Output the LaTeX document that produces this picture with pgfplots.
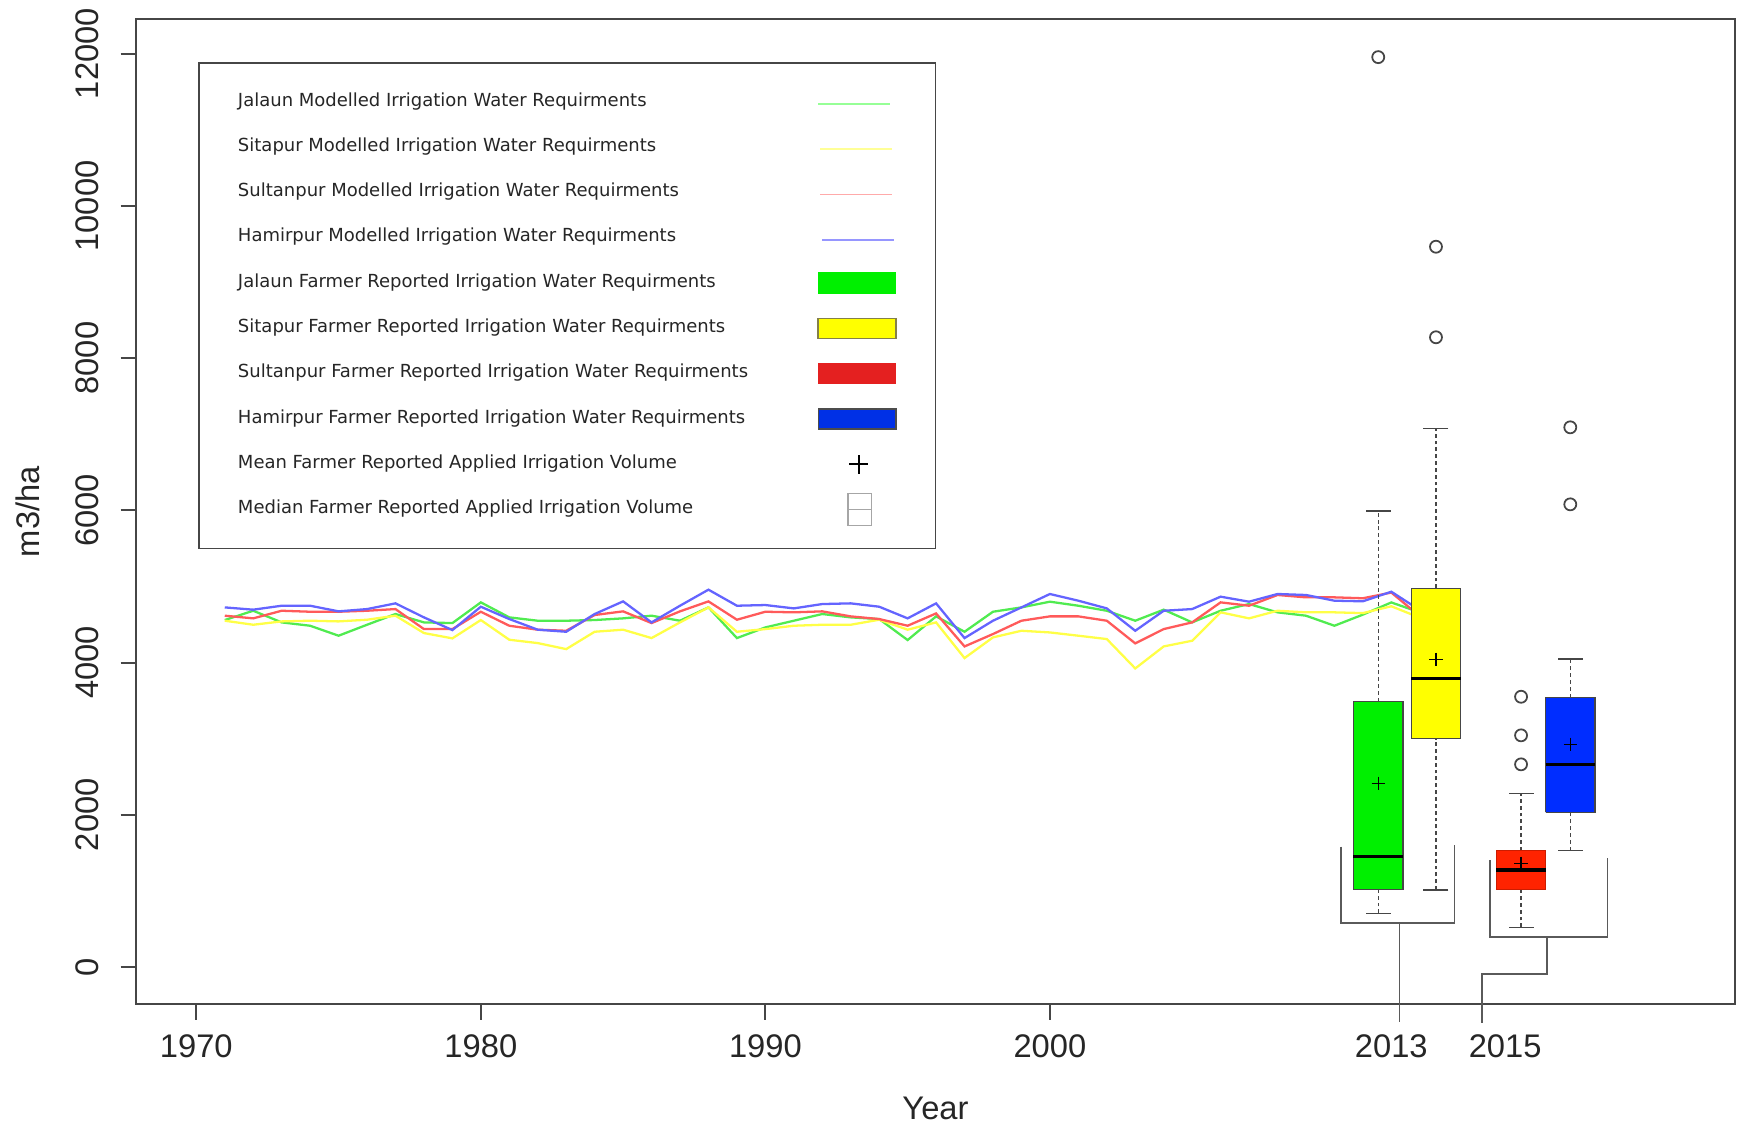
\documentclass[border=0pt]{standalone}
\usepackage{fontspec}
\setmainfont{Liberation Sans}
\newfontfamily\legfont{DejaVu Sans}
\usepackage{pgfplots}
\usepackage{pgfplotstable}
\pgfplotsset{compat=1.18}

\definecolor{lnG}{RGB}{80,235,80}
\definecolor{lnY}{RGB}{255,255,70}
\definecolor{lnR}{RGB}{255,90,90}
\definecolor{lnB}{RGB}{100,100,255}
\definecolor{lgG}{RGB}{150,255,150}
\definecolor{lgY}{RGB}{255,255,150}
\definecolor{lgR}{RGB}{255,170,170}
\definecolor{lgB}{RGB}{150,150,255}
\definecolor{bxG}{RGB}{0,240,0}
\definecolor{bxY}{RGB}{255,255,0}
\definecolor{bxR}{RGB}{255,35,0}
\definecolor{bxB}{RGB}{0,45,255}
\definecolor{lfR}{RGB}{228,32,32}
\definecolor{lfB}{RGB}{0,48,230}
\definecolor{dk}{RGB}{70,70,70}
\definecolor{brk}{RGB}{90,90,90}

\pgfplotstableread{
year J S Su H
1971 4559 4550 4616 4725
1972 4681 4497 4581 4695
1973 4528 4541 4681 4747
1974 4484 4550 4668 4747
1975 4353 4541 4668 4673
1976 4497 4563 4681 4703
1977 4638 4616 4703 4778
1978 4528 4388 4440 4594
1979 4519 4318 4440 4427
1980 4791 4559 4668 4734
1981 4594 4300 4484 4572
1982 4550 4256 4432 4432
1983 4550 4177 4418 4405
1984 4559 4405 4625 4638
1985 4581 4432 4673 4804
1986 4616 4322 4519 4528
1987 4550 4528 4673 4747
1988 4725 4725 4804 4958
1989 4322 4405 4563 4747
1990 4462 4440 4668 4756
1991 4550 4484 4660 4712
1992 4638 4497 4673 4769
1993 4594 4497 4607 4778
1994 4572 4563 4572 4734
1995 4296 4432 4484 4581
1996 4607 4528 4646 4778
1997 4405 4059 4212 4322
1998 4668 4331 4375 4550
1999 4725 4418 4550 4725
2000 4800 4396 4607 4901
2001 4747 4353 4607 4813
2002 4681 4309 4550 4712
2003 4550 3923 4252 4418
2004 4695 4212 4440 4681
2005 4528 4287 4528 4703
2006 4681 4660 4791 4866
2007 4769 4581 4747 4800
2008 4660 4681 4888 4901
2009 4616 4660 4857 4888
2010 4484 4660 4857 4813
2011 4630 4650 4845 4805
2012 4790 4740 4920 4931
2013 4660 4590 4610 4690
}\lines

\pgfplotsset{
  whisk/.style={dk, line width=0.35pt, dash pattern=on 1.1pt off 0.85pt},
  capm/.style={only marks, mark=-, mark size=0.125cm, mark options={solid, dk, line width=0.4pt}},
  boxs/.style={draw=dk, line width=0.35pt},
  medl/.style={black, line width=1pt},
  meanm/.style={only marks, mark=+, mark size=0.067cm, mark options={black, line width=0.35pt}},
  outm/.style={only marks, mark=o, mark size=0.06cm, mark options={dk, line width=0.5pt}},
  brkl/.style={brk, line width=0.5pt},
}

\begin{document}
\begin{tikzpicture}
\path[use as bounding box] (-1.36cm,-1.21cm) rectangle (16.02cm,10.04cm);
\begin{axis}[
  at={(0,0)}, anchor=south west,
  scale only axis, width=15.99cm, height=9.847cm,
  xmin=1967.88, xmax=2024.08, ymin=-486, ymax=12452,
  clip=false,
  scaled x ticks=false, scaled y ticks=false,
  axis line style={draw=dk, line width=0.6pt},
  tick align=outside,
  major tick length=0.155cm,
  tick style={dk, line width=0.6pt},
  xtick pos=left, ytick pos=left,
  xtick={1970,1980,1990,2000},
  xticklabels={1970,1980,1990,2000},
  extra x ticks={2012,2016},
  extra x tick labels={2013,2015},
  extra x tick style={every major tick/.append style={draw=none}},
  ytick={0,2000,4000,6000,8000,10000,12000},
  yticklabels={0,2000,4000,6000,8000,10000,12000},
  tick label style={font=\fontsize{9.3}{11}\selectfont, text=black!85},
  yticklabel style={rotate=90, anchor=south},
  yticklabel shift=0.09cm,
  xticklabel shift=0.03cm,
  label style={font=\fontsize{9.3}{11}\selectfont, text=black!85},
  xlabel={Year},
  ylabel={m3/ha},
  xlabel style={at={(axis description cs:0.5,-0.1056)}, anchor=center},
  ylabel style={at={(axis description cs:-0.0675,0.5)}, anchor=center},
  /pgf/number format/assume math mode=true,
  legend cell align=left,
  legend plot pos=right,
  legend style={at={(axis cs:1970.07,11891)}, anchor=north west,
    draw=dk, line width=0.5pt, fill=white,
    inner xsep=0.388cm, inner ysep=0.163cm,
    row sep=0pt, column sep=0pt,
    nodes={inner sep=0pt, minimum height=0.453cm},
    font=\legfont\fontsize{5.12}{6.2}\selectfont, text=black!85},
]
% legend
\addlegendimage{legend image code/.code={\draw[lgG, line width=0.45pt] (0cm,-0.02cm) -- (0.72cm,-0.02cm);}}
\addlegendentry{\makebox[5.795cm][l]{Jalaun Modelled Irrigation Water Requirments}}
\addlegendimage{legend image code/.code={\draw[lgY, line width=0.45pt] (0.02cm,-0.02cm) -- (0.74cm,-0.02cm);}}
\addlegendentry{\makebox[5.795cm][l]{Sitapur Modelled Irrigation Water Requirments}}
\addlegendimage{legend image code/.code={\draw[lgR, line width=0.45pt] (0.02cm,-0.02cm) -- (0.74cm,-0.02cm);}}
\addlegendentry{\makebox[5.795cm][l]{Sultanpur Modelled Irrigation Water Requirments}}
\addlegendimage{legend image code/.code={\draw[lgB, line width=0.45pt] (0.04cm,-0.02cm) -- (0.76cm,-0.02cm);}}
\addlegendentry{\makebox[5.795cm][l]{Hamirpur Modelled Irrigation Water Requirments}}
\addlegendimage{legend image code/.code={\filldraw[fill=bxG, draw=bxG, line width=0.3pt] (0cm,-0.1cm) rectangle (0.776cm,0.1cm);}}
\addlegendentry{\makebox[5.795cm][l]{Jalaun Farmer Reported Irrigation Water Requirments}}
\addlegendimage{legend image code/.code={\filldraw[fill=bxY, draw=black!55!yellow, line width=0.45pt] (0cm,-0.1cm) rectangle (0.776cm,0.1cm);}}
\addlegendentry{\makebox[5.795cm][l]{Sitapur Farmer Reported Irrigation Water Requirments}}
\addlegendimage{legend image code/.code={\filldraw[fill=lfR, draw=lfR, line width=0.3pt] (0cm,-0.1cm) rectangle (0.776cm,0.1cm);}}
\addlegendentry{\makebox[5.795cm][l]{Sultanpur Farmer Reported Irrigation Water Requirments}}
\addlegendimage{legend image code/.code={\filldraw[fill=lfB, draw=black!70, line width=0.4pt] (0cm,-0.1cm) rectangle (0.776cm,0.1cm);}}
\addlegendentry{\makebox[5.795cm][l]{Hamirpur Farmer Reported Irrigation Water Requirments}}
\addlegendimage{legend image code/.code={\draw[black, line width=0.6pt] (0.31cm,0cm) -- (0.50cm,0cm) (0.405cm,-0.095cm) -- (0.405cm,0.095cm);}}
\addlegendentry{\makebox[5.795cm][l]{Mean Farmer Reported Applied Irrigation Volume}}
\addlegendimage{legend image code/.code={\draw[black!35, line width=0.4pt] (0.297cm,-0.16cm) rectangle (0.53cm,0.16cm) (0.297cm,0cm) -- (0.53cm,0cm);}}
\addlegendentry{\makebox[5.795cm][l]{Median Farmer Reported Applied Irrigation Volume}}

% modelled lines
\addplot[lnG, line width=0.65pt] table[x=year, y=J] {\lines};
\addplot[lnY, line width=0.65pt] table[x=year, y=S] {\lines};
\addplot[lnR, line width=0.65pt] table[x=year, y=Su] {\lines};
\addplot[lnB, line width=0.65pt] table[x=year, y=H] {\lines};

% Jalaun box (green)
\addplot[whisk] coordinates {(2011.54,3486) (2011.54,5990)};
\addplot[whisk] coordinates {(2011.54,706) (2011.54,1021)};
\addplot[capm] coordinates {(2011.54,5990) (2011.54,706)};
\addplot[boxs, fill=bxG] coordinates {(2010.67,1021) (2012.41,1021) (2012.41,3486) (2010.67,3486) (2010.67,1021)};
\addplot[medl] coordinates {(2010.67,1449) (2012.41,1449)};
\addplot[meanm] coordinates {(2011.54,2414)};
\addplot[outm] coordinates {(2011.54,11955)};

% Sitapur box (yellow)
\addplot[whisk] coordinates {(2013.57,4976) (2013.57,7078)};
\addplot[whisk] coordinates {(2013.57,1012) (2013.57,3000)};
\addplot[capm] coordinates {(2013.57,7078) (2013.57,1012)};
\addplot[boxs, fill=bxY] coordinates {(2012.70,3000) (2014.44,3000) (2014.44,4976) (2012.70,4976) (2012.70,3000)};
\addplot[medl] coordinates {(2012.70,3793) (2014.44,3793)};
\addplot[meanm] coordinates {(2013.57,4043)};
\addplot[outm] coordinates {(2013.57,9464) (2013.57,8274)};

% Sultanpur box (red)
\addplot[whisk] coordinates {(2016.56,1528) (2016.56,2282)};
\addplot[whisk] coordinates {(2016.56,522) (2016.56,1021)};
\addplot[capm] coordinates {(2016.56,2282) (2016.56,522)};
\addplot[boxs, fill=bxR, draw=bxR!80!black] coordinates {(2015.69,1021) (2017.43,1021) (2017.43,1528) (2015.69,1528) (2015.69,1021)};
\addplot[meanm] coordinates {(2016.56,1362)};
\addplot[medl] coordinates {(2015.69,1274) (2017.43,1274)};
\addplot[outm] coordinates {(2016.56,3551) (2016.56,3044) (2016.56,2663)};

% Hamirpur box (blue)
\addplot[whisk] coordinates {(2018.29,3541) (2018.29,4047)};
\addplot[whisk] coordinates {(2018.29,1528) (2018.29,2033)};
\addplot[capm] coordinates {(2018.29,4047) (2018.29,1528)};
\addplot[boxs, fill=bxB] coordinates {(2017.42,2033) (2019.16,2033) (2019.16,3541) (2017.42,3541) (2017.42,2033)};
\addplot[medl] coordinates {(2017.42,2663) (2019.16,2663)};
\addplot[meanm] coordinates {(2018.29,2926)};
\addplot[outm] coordinates {(2018.29,7091) (2018.29,6079)};

% brackets
\addplot[brkl] coordinates {(2010.23,1581) (2010.23,574) (2014.22,574) (2014.22,1603)};
\addplot[brkl] coordinates {(2012.29,574) (2012.29,-719)};
\addplot[brkl] coordinates {(2015.48,1406) (2015.48,390) (2019.60,390) (2019.60,1428)};
\addplot[brkl] coordinates {(2017.47,390) (2017.47,-92) (2015.20,-92) (2015.20,-736)};
\end{axis}
\end{tikzpicture}
\end{document}
